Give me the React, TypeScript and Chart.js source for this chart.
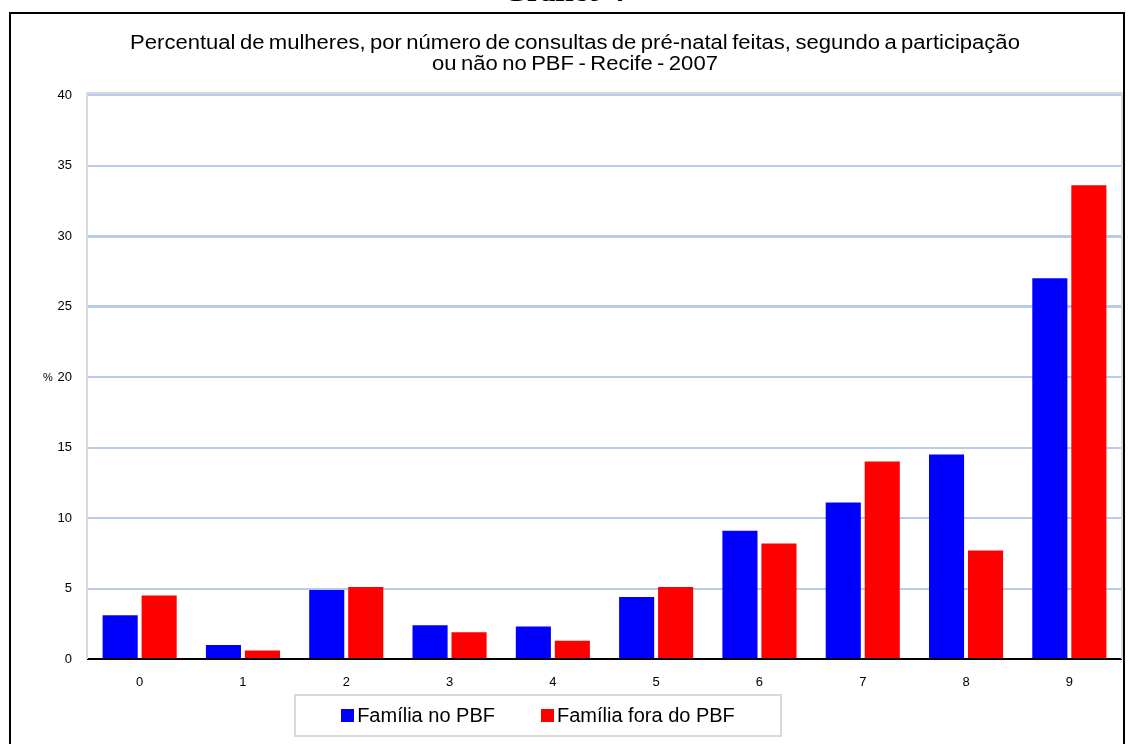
import React, { useEffect, useRef } from "react";
import { Chart, registerables } from "chart.js";

Chart.register(...registerables);

const categories = ["0", "1", "2", "3", "4", "5", "6", "7", "8", "9"];
const noPBF = [3.1, 1.0, 4.9, 2.4, 2.3, 4.4, 9.1, 11.1, 14.5, 27.0];
const foraPBF = [4.5, 0.6, 5.1, 1.9, 1.3, 5.1, 8.2, 14.0, 7.7, 33.6];
const seriesNames = ["Família no PBF", "Família fora do PBF"];
const seriesColors = ["#0000ff", "#ff0000"];
const titleLines = [
  "Percentual de mulheres, por número de consultas de pré-natal feitas, segundo a participação",
  "ou não no PBF - Recife - 2007",
];

const FONT = "'Liberation Sans', Arial, sans-serif";

const areaBorder = {
  id: "areaBorder",
  beforeDatasetsDraw(chart: any) {
    const { ctx, chartArea } = chart;
    ctx.save();
    ctx.strokeStyle = "#d9d9d9";
    ctx.lineWidth = 2;
    ctx.beginPath();
    ctx.moveTo(chartArea.left - 1, chartArea.bottom);
    ctx.lineTo(chartArea.left - 1, chartArea.top - 2);
    ctx.lineTo(chartArea.right + 1, chartArea.top - 2);
    ctx.lineTo(chartArea.right + 1, chartArea.bottom);
    ctx.stroke();
    ctx.restore();
  },
};

export default function App() {
  const ref = useRef<HTMLCanvasElement>(null);
  useEffect(() => {
    const chart = new Chart(ref.current!, {
      type: "bar",
      data: {
        labels: categories,
        datasets: [
          { label: seriesNames[0], data: noPBF, backgroundColor: seriesColors[0] },
          { label: seriesNames[1], data: foraPBF, backgroundColor: seriesColors[1] },
        ],
      },
      plugins: [areaBorder],
      options: {
        responsive: false,
        animation: false,
        layout: { padding: { top: 95, right: 7, bottom: 50, left: 0 } },
        datasets: { bar: { categoryPercentage: 0.755, barPercentage: 0.9 } },
        plugins: { legend: { display: false }, title: { display: false }, tooltip: { enabled: false } },
        scales: {
          x: {
            grid: { display: false, drawTicks: false },
            border: { display: true, color: "#000", width: 2 },
            ticks: { color: "#000", font: { family: FONT, size: 13 }, padding: 16 },
            afterFit: (s: any) => { s.height = 35; },
          },
          y: {
            min: 0,
            max: 40,
            ticks: { stepSize: 5, color: "#000", font: { family: FONT, size: 13 }, padding: 16 },
            grid: {
              drawTicks: false,
              color: (c: any) => (c.tick && c.tick.value === 0 ? "#000" : "#b8cbea"),
              lineWidth: (c: any) => (c.tick && (c.tick.value === 25 || c.tick.value === 30) ? 3 : 2),
            },
            border: { display: false },
            afterFit: (s: any) => { s.width = 88; },
          },
        },
      },
    });
    return () => chart.destroy();
  }, []);

  return (
    <div style={{ position: "absolute", left: 0, top: 0, width: 1128, height: 744, overflow: "hidden", background: "#fff" }}>
      <div style={{ position: "absolute", left: 0, width: 1128, top: -24, height: 30, lineHeight: "30px", textAlign: "center", fontFamily: "'Liberation Serif', 'Times New Roman', serif", fontWeight: "bold", fontSize: 30, color: "#000" }}>
        Gráfico 4
      </div>
      <div style={{ position: "absolute", left: 9, top: 12, width: 1112, height: 800, border: "2px solid #000" }} />
      <canvas ref={ref} width={1128} height={744} style={{ position: "absolute", left: 0, top: 0 }} />
      <div style={{ position: "absolute", left: 58, width: 1034, top: 32, textAlign: "center", fontFamily: FONT, fontSize: 19.5, lineHeight: "21px", wordSpacing: -1.5, color: "#000", transform: "scaleX(1.13)", transformOrigin: "517px 0" }}>
        <div>{titleLines[0]}</div>
        <div>{titleLines[1]}</div>
      </div>
      <div style={{ position: "absolute", left: 43, top: 371, fontFamily: FONT, fontSize: 11, color: "#000" }}>%</div>
      <div style={{ position: "absolute", left: 294, top: 694, width: 484, height: 39, border: "2px solid #d9d9d9", display: "flex", alignItems: "center", justifyContent: "center", fontFamily: FONT, fontSize: 20, color: "#000" }}>
        {seriesNames.map((n, i) => (
          <span key={n} style={{ display: "flex", alignItems: "center", marginRight: i === 0 ? 46 : 0 }}>
            <span style={{ display: "inline-block", width: 13, height: 13, background: seriesColors[i], marginRight: 3 }} />
            <span>{n}</span>
          </span>
        ))}
      </div>
    </div>
  );
}
